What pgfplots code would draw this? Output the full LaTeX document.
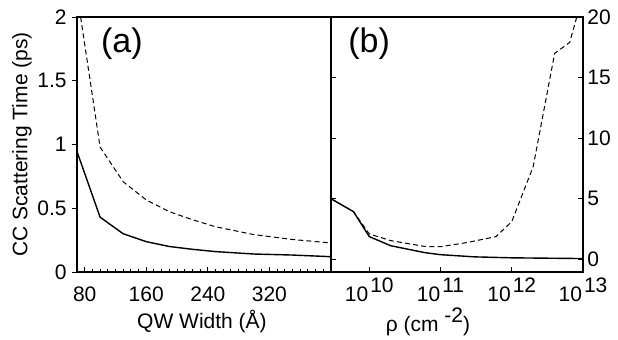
\documentclass[border=0pt]{standalone}
\usepackage{fontspec}
\setmainfont{Liberation Sans}
\usepackage{pgfplots}
\pgfplotsset{compat=1.18}

\begin{document}
\begin{tikzpicture}
\useasboundingbox (-38.5pt,-33.5pt) rectangle (270.5pt,136pt);
\pgfplotsset{
  every axis/.append style={
    scale only axis,
    font=\fontsize{10.5}{12}\selectfont,
    axis line style={line width=0.6pt},
    every tick/.style={black, line width=0.5pt},
    major tick length=2.5pt, minor tick length=1.5pt,
    /pgf/number format/assume math mode=true,
    xticklabel style={anchor=base, yshift=-14.75pt},
    clip=true,
  },
  solidc/.style={black, line width=0.7pt},
  dashc/.style={black, line width=0.5pt, dash pattern=on 2.5pt off 1.6pt},
}
\begin{axis}[at={(0,0)}, anchor=south west, width=127pt, height=127.5pt,
  xmin=70, xmax=400, ymin=0, ymax=2,
  xtick={80,160,240,320}, minor xtick={70,80,...,400},
  xtick pos=bottom, xtick align=inside,
  ytick={0,0.5,1,1.5,2}, yticklabels={0,0.5,1,1.5,2},
  ytick pos=left, ytick align=outside,
  yticklabel style={anchor=east, inner sep=0pt, xshift=-2.5pt},
  xlabel={QW Width (Å)},
  xlabel style={at={(axis description cs:0.492,-0.196)}, anchor=center},
  ylabel={CC Scattering Time (ps)},
  ylabel style={at={(axis description cs:-0.2165,0.5)}, anchor=center},
]
\addplot[solidc] coordinates {(70,0.945) (100,0.43) (130,0.30) (160,0.238) (190,0.20) (220,0.178) (250,0.16) (300,0.141) (350,0.133) (400,0.12)};
\addplot[dashc] coordinates {(70,2.19) (100,0.98) (130,0.708) (160,0.565) (190,0.473) (220,0.41) (250,0.355) (300,0.293) (350,0.255) (400,0.228)};
\node at (axis description cs:0.177,0.894) {\fontsize{17}{20}\selectfont (a)};
\end{axis}

\begin{axis}[at={(127pt,0)}, anchor=south west, width=126pt, height=127.5pt,
  xmode=log, log basis x=10,
  xmin=2.9e9, xmax=1e13, ymin=-1.05, ymax=20,
  xtick={1e10,1e11,1e12,1e13},
  xticklabels={10\hspace{1pt}\raisebox{4.5pt}{10},10\hspace{1pt}\raisebox{4.5pt}{11},10\hspace{1pt}\raisebox{4.5pt}{12},10\hspace{1pt}\raisebox{4.5pt}{13}},
  xtick pos=bottom, tick align=inside,
  ytick={0,5,10,15,20},
  ytick pos=both, yticklabel pos=right,
  yticklabel style={anchor=west, inner sep=0pt, xshift=2pt},
  xlabel={ρ (cm \raisebox{4.5pt}{-2})},
  xlabel style={at={(axis description cs:0.385,-0.196)}, anchor=center},
]
\addplot[solidc] coordinates {(2.9e9,5.0) (6e9,3.93) (1e10,1.87) (2e10,1.12) (6e10,0.55) (1e11,0.38) (3e11,0.2) (1e12,0.12) (1e13,0.06)};
\addplot[dashc] coordinates {(2.9e9,5.0) (6e9,3.93) (1e10,2.09) (2e10,1.54) (6e10,1.06) (1e11,1.04) (2.3e11,1.37) (6e11,1.87) (1e12,3.11) (2e12,7.65) (4e12,17.0) (6.5e12,17.9) (8e12,19.8) (1e13,22)};
\node at (axis description cs:0.151,0.894) {\fontsize{17}{20}\selectfont (b)};
\end{axis}
\end{tikzpicture}
\end{document}
